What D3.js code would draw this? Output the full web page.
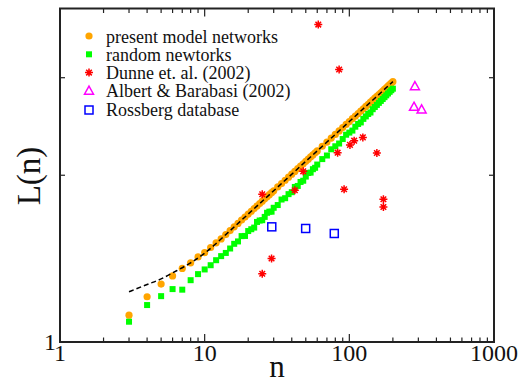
<!DOCTYPE html>
<html><head><meta charset="utf-8">
<script src="https://cdn.jsdelivr.net/npm/d3@7"></script>
<style>body{margin:0;background:#fff} svg{display:block}</style>
</head><body>
<script>
// ---- data ----
const sizesN = [3,4,5,6,7,8,9,10,11,12,13,14,15,16,17,18,19,20,21,22,23,24,25,26,27,28,29,30,
  32,34,36,38,40,42,44,46,48,50,52,54,56,58,60,
  65,70,75,80,85,90,95,100,105,110,115,120,125,130,135,140,145,150,155,160,165,170,175,180,185,190,195,200];
const modelL = [1.118,1.207,1.272,1.316,1.358,1.390,1.424,1.450,1.481,1.510,1.535,1.563,1.589,1.614,1.637,1.660,1.681,1.702,1.722,1.741,1.760,1.778,1.796,1.813,1.829,1.845,1.860,1.875,
  1.905,1.932,1.959,1.984,2.009,2.032,2.055,2.077,2.098,2.119,2.138,2.158,2.176,2.195,2.213,
  2.256,2.296,2.334,2.370,2.405,2.438,2.470,2.500,2.530,2.557,2.585,2.611,2.637,2.662,2.686,2.710,2.733,2.755,2.777,2.798,2.818,2.839,2.858,2.877,2.897,2.915,2.933,2.951];
const randomL = [1.088,1.166,1.210,1.246,1.243,1.293,1.326,1.352,1.376,1.405,1.429,1.448,1.475,1.504,1.519,1.553,1.554,1.586,1.598,1.609,1.647,1.657,1.659,1.682,1.711,1.719,1.719,1.747,
  1.767,1.808,1.818,1.849,1.864,1.905,1.913,1.945,1.955,1.989,2.019,2.022,2.051,2.063,2.091,
  2.139,2.171,2.228,2.256,2.282,2.325,2.367,2.388,2.408,2.447,2.475,2.491,2.528,2.554,2.580,2.596,2.632,2.656,2.679,2.702,2.724,2.746,2.767,2.788,2.809,2.829,2.848,2.866];
const fitN = [3,4,5,6,8,10,15,20,30,50,70,100,150,200];
const fitL = [1.232,1.270,1.300,1.333,1.390,1.447,1.589,1.702,1.875,2.119,2.296,2.500,2.755,2.951];
const dunneN = [61,85,25,25,29,42,48,83,92,101,108,124,155,172,172];
const dunneL = [3.741,3.104,1.848,1.328,1.415,1.879,2.033,2.197,1.887,2.269,2.309,2.341,2.194,1.810,1.753];
const albertN = [284,280,316];
const albertL = [2.893,2.655,2.627];
const rossbergN = [29.1,49.9,78.7];
const rossbergL = [1.614,1.603,1.570];
const xTickLabels = ["1","10","100","1000"];
const xTickValues = [1,10,100,1000];
const yMinorTicks = [2,3];
const legendLabels = ["present model networks","random newtorks","Dunne et. al. (2002)","Albert & Barabasi (2002)","Rossberg database"];

// ---- chart ----
const W = 518, H = 385;
const svg = d3.select("body").append("svg").attr("width", W).attr("height", H);
const x = d3.scaleLog().domain([1,1000]).range([60,494]);
const y = d3.scaleLog().domain([1,4]).range([342,8.5]);
const font = "'Liberation Serif','Times New Roman',serif";

// minor x ticks
const minorX = [];
for (let d = 1; d < 1000; d *= 10) for (let k = 2; k <= 9; k++) minorX.push(d*k);

const ax = svg.append("g").attr("stroke","#222").attr("stroke-width",1.2);
minorX.forEach(v => {
  ax.append("line").attr("x1",x(v)).attr("x2",x(v)).attr("y1",342).attr("y2",337.5);
  ax.append("line").attr("x1",x(v)).attr("x2",x(v)).attr("y1",8.5).attr("y2",13);
});
xTickValues.forEach(v => {
  ax.append("line").attr("x1",x(v)).attr("x2",x(v)).attr("y1",342).attr("y2",334);
  ax.append("line").attr("x1",x(v)).attr("x2",x(v)).attr("y1",8.5).attr("y2",16.5);
});
yMinorTicks.forEach(v => {
  ax.append("line").attr("x1",60).attr("x2",65).attr("y1",y(v)).attr("y2",y(v));
  ax.append("line").attr("x1",494).attr("x2",489).attr("y1",y(v)).attr("y2",y(v));
});
svg.append("rect").attr("x",60).attr("y",8.5).attr("width",434).attr("height",333.5)
  .attr("fill","none").attr("stroke","#222").attr("stroke-width",2);

// tick labels
svg.append("g").selectAll("text").data(xTickValues).join("text")
  .attr("x", d => x(d)).attr("y", 361).attr("text-anchor","middle")
  .attr("font-family",font).attr("font-size",24).attr("fill","#111")
  .text((d,i) => xTickLabels[i]);
svg.append("text").attr("x",56).attr("y",350).attr("text-anchor","end")
  .attr("font-family",font).attr("font-size",24).attr("fill","#111").text("1");

// axis titles
svg.append("text").attr("x",277).attr("y",377).attr("text-anchor","middle")
  .attr("font-family",font).attr("font-size",31).attr("fill","#111").text("n");
svg.append("text").attr("transform","translate(40,176) rotate(-90)").attr("text-anchor","middle")
  .attr("font-family",font).attr("font-size",33).attr("fill","#111").text("L(n)");

// marker helpers
function star(g, cx, cy, r) {
  const p = `M${cx-r},${cy}L${cx+r},${cy}M${cx},${cy-r}L${cx},${cy+r}` +
    `M${cx-r*0.7},${cy-r*0.7}L${cx+r*0.7},${cy+r*0.7}M${cx-r*0.7},${cy+r*0.7}L${cx+r*0.7},${cy-r*0.7}`;
  g.append("path").attr("d",p).attr("stroke","#ff0000").attr("stroke-width",1.5).attr("fill","none");
}
function tri(g, cx, cy, s) {
  const h = s*0.9;
  g.append("path").attr("d",`M${cx},${cy-h*0.6}L${cx+s/2},${cy+h*0.4}L${cx-s/2},${cy+h*0.4}Z`)
    .attr("stroke","#ff00ff").attr("stroke-width",1.5).attr("fill","none");
}
function sqOpen(g, cx, cy, s) {
  g.append("rect").attr("x",cx-s/2).attr("y",cy-s/2).attr("width",s).attr("height",s)
    .attr("stroke","#0000ff").attr("stroke-width",1.5).attr("fill","none");
}

// series
const model = sizesN.map((n,i) => [n, modelL[i]]);
const rnd = sizesN.map((n,i) => [n, randomL[i]]);
svg.append("g").selectAll("circle").data(model).join("circle")
  .attr("cx", d => x(d[0])).attr("cy", d => y(d[1])).attr("r",3.6).attr("fill","#ffa500");
svg.append("g").selectAll("rect").data(rnd).join("rect")
  .attr("x", d => x(d[0])-3).attr("y", d => y(d[1])-3).attr("width",6).attr("height",6).attr("fill","#00ff00");

const fit = fitN.map((n,i) => [n, fitL[i]]);
svg.append("path").datum(fit)
  .attr("d", d3.line().x(d => x(d[0])).y(d => y(d[1])).curve(d3.curveMonotoneX))
  .attr("fill","none").attr("stroke","#000").attr("stroke-width",1.5).attr("stroke-dasharray","5,3");

const gs = svg.append("g");
dunneN.forEach((n,i) => star(gs, x(n), y(dunneL[i]), 4));
albertN.forEach((n,i) => tri(gs, x(n), y(albertL[i]), 9));
rossbergN.forEach((n,i) => sqOpen(gs, x(n), y(rossbergL[i]), 8));

// legend
const lg = svg.append("g");
const ly = [36, 54.3, 72.6, 90.9, 110];
lg.append("circle").attr("cx",89).attr("cy",ly[0]).attr("r",3.6).attr("fill","#ffa500");
lg.append("rect").attr("x",86).attr("y",ly[1]-3).attr("width",6).attr("height",6).attr("fill","#00ff00");
star(lg, 89, ly[2], 4);
tri(lg, 89, ly[3], 9);
sqOpen(lg, 89, ly[4], 8);
lg.selectAll("text").data(legendLabels).join("text")
  .attr("x",106).attr("y",(d,i) => [42.5,60.8,79.1,97.4,115.7][i])
  .attr("font-family",font).attr("font-size",18).attr("fill","#111").text(d => d);
</script>
</body></html>
